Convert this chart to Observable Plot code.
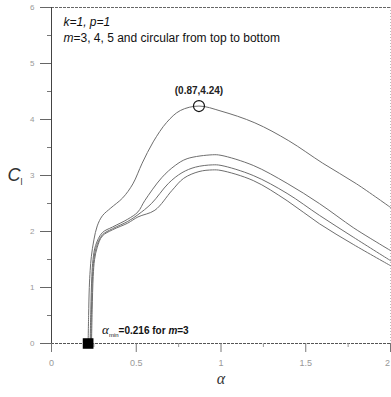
<!DOCTYPE html>
<html>
<head>
<meta charset="utf-8">
<script src="https://cdn.jsdelivr.net/npm/d3@7"></script>
<script src="https://cdn.jsdelivr.net/npm/@observablehq/plot@0.6"></script>
<style>
  html, body { margin: 0; padding: 0; background: #fff; }
  svg { display: block; }
</style>
</head>
<body>
<div id="chart"></div>
<script>
// Series: m=3 (top), m=4, m=5, circular (bottom)
const alphaM3 = [0.216,0.219,0.223,0.228,0.235,0.25,0.27,0.30,0.35,0.42,0.48,0.535,0.60,0.68,0.76,0.87,1.00,1.20,1.40,1.60,1.80,2.00];
const clM3    = [0,    0.5,  1.0,  1.3,  1.55, 1.85,2.10,2.28,2.42,2.60,2.85,3.22, 3.60,3.95,4.16,4.24,4.15,3.94,3.62,3.22,2.85,2.43];

const alphaM4 = [0.228,0.232,0.238,0.245,0.26,0.30,0.36,0.45,0.51,0.55,0.65,0.73,0.80,0.95,1.00,1.19,1.39,1.58,1.78,1.88,2.00];
const clM4    = [0,    0.6,  1.2,  1.5,  1.75,1.98,2.08,2.22,2.35,2.55,2.96,3.18,3.30,3.37,3.36,3.18,2.86,2.50,2.07,1.88,1.66];

const alphaM5 = [0.232,0.236,0.242,0.25,0.265,0.30,0.36,0.45,0.51,0.59,0.69,0.77,0.85,0.95,1.00,1.19,1.39,1.58,1.78,2.00];
const clM5    = [0,    0.6,  1.2,  1.5, 1.73, 1.94,2.05,2.18,2.30,2.50,2.86,3.05,3.15,3.19,3.18,3.00,2.68,2.29,1.90,1.48];

const alphaCirc = [0.236,0.24,0.246,0.254,0.27,0.30,0.36,0.45,0.51,0.61,0.71,0.78,0.87,0.95,1.00,1.19,1.39,1.58,1.78,2.00];
const clCirc    = [0,    0.6, 1.2,  1.5,  1.72,1.92,2.03,2.15,2.26,2.38,2.73,2.95,3.07,3.10,3.09,2.91,2.55,2.14,1.77,1.39];

const seriesNames = ["m=3", "m=4", "m=5", "circular"];
const xTicks = [0, 0.5, 1, 1.5, 2];
const xTickLabels = ["0", "0.5", "1", "1.5", "2"];
const xMinorTicks = [0.25, 0.75, 1.25, 1.75];
const yTicks = [0, 1, 2, 3, 4, 5, 6];
const yTickLabels = ["0", "1", "2", "3", "4", "5", "6"];
const yMinorTicks = [0.5, 1.5, 2.5, 3.5, 4.5, 5.5];

const peakPoint = [{alpha: 0.87, cl: 4.24}];
const alphaMinPoint = [{alpha: 0.216, cl: 0}];
const noteLine1 = "k=1, p=1";
const noteLine2 = "m=3, 4, 5 and circular from top to bottom";
const peakLabel = "(0.87,4.24)";
const alphaMinLabel = "α_min=0.216 for m=3";

const toRows = (xs, ys, s) => xs.map((a, i) => ({alpha: a, cl: ys[i], series: s}));
const rows = [
  ...toRows(alphaM3, clM3, seriesNames[0]),
  ...toRows(alphaM4, clM4, seriesNames[1]),
  ...toRows(alphaM5, clM5, seriesNames[2]),
  ...toRows(alphaCirc, clCirc, seriesNames[3])
];

const plot = Plot.plot({
  width: 391,
  height: 397,
  marginLeft: 51,
  marginRight: 1,
  marginTop: 7,
  marginBottom: 54,
  style: {fontFamily: "Liberation Sans, Arial, sans-serif", background: "#fff"},
  x: {domain: [0, 2]},
  y: {domain: [0, 6]},
  marks: [
    // frame
    Plot.ruleY([6], {stroke: "#666", strokeWidth: 1, strokeDasharray: "3,1"}),
    Plot.ruleX([2], {stroke: "#bbb", strokeWidth: 1, strokeDasharray: "1,2"}),
    Plot.ruleY([0], {stroke: "#555", strokeWidth: 1, strokeDasharray: "3,1"}),
    Plot.ruleX([0], {stroke: "#444", strokeWidth: 1, y1: 0, y2: 6}),
    // axes
    Plot.axisY(yTicks, {tickSize: 11, tickPadding: 6, fontSize: 8, fill: "#999", stroke: "#666", tickFormat: (d, i) => yTickLabels[i], label: null}),
    Plot.axisY(yMinorTicks, {tickSize: 4, text: null, stroke: "#777", label: null}),
    Plot.axisX(xTicks, {tickSize: 9, tickPadding: 7, fontSize: 9, fill: "#999", stroke: "#777", tickFormat: (d, i) => xTickLabels[i], label: null}),
    Plot.axisX(xMinorTicks, {tickSize: 4, text: null, stroke: "#999", label: null}),
    // curves
    Plot.line(rows, {x: "alpha", y: "cl", z: "series", stroke: "#6e6e6e", strokeWidth: 1, curve: "catmull-rom"}),
    // markers
    Plot.dot(peakPoint, {x: "alpha", y: "cl", r: 5.5, stroke: "#111", strokeWidth: 1.2, fill: "none"}),
    Plot.dot(alphaMinPoint, {x: "alpha", y: "cl", symbol: "square", r: 5.2, fill: "#000", stroke: "#000"}),
    // annotations
    Plot.text(peakPoint, {x: "alpha", y: "cl", text: () => peakLabel, dy: -15, fontSize: 10, fontWeight: "bold", fill: "#222"}),
    Plot.text(alphaMinPoint, {x: "alpha", y: "cl", text: () => alphaMinLabel, dx: 14, dy: -13, textAnchor: "start", fontSize: 10, fontWeight: "bold", fill: "#111"}),
    Plot.text([noteLine1], {frameAnchor: "top-left", dx: 12, dy: 10, fontSize: 12, fontStyle: "italic", fill: "#111"}),
    Plot.text([noteLine2], {frameAnchor: "top-left", dx: 12, dy: 26, fontSize: 12, fill: "#111"}),
    // axis labels
    Plot.text(["α"], {frameAnchor: "bottom", dy: 40, fontSize: 16, fontFamily: "Liberation Serif, serif", fontStyle: "italic", fill: "#333"}),
    Plot.text(["C_l"], {frameAnchor: "left", dx: -44, dy: 0, fontSize: 18, textAnchor: "start", fill: "#333"})
  ]
});

document.getElementById("chart").appendChild(plot);

// Keep the "2" tick label at the right edge inside the picture
d3.select(plot).selectAll("text").filter(function () {
  return this.textContent === xTickLabels[xTickLabels.length - 1] && this.closest("g[aria-label='x-axis tick label']");
}).attr("dx", -3);

// Rich-text post-processing (italics / subscripts)
function rich(content, parts) {
  d3.select(plot).selectAll("text").filter(function () { return this.textContent === content; })
    .each(function () {
      const t = d3.select(this);
      t.text(null);
      for (const p of parts) {
        const ts = t.append("tspan").text(p.t);
        if (p.italic) ts.attr("font-style", "italic");
        if (p.family) ts.attr("font-family", p.family);
        if (p.size) ts.attr("font-size", p.size);
        if (p.weight) ts.attr("font-weight", p.weight);
        if (p.dy) ts.attr("dy", p.dy);
      }
    });
}
rich(noteLine2, [{t: "m", italic: true}, {t: "=3, 4, 5 and circular from top to bottom"}]);
rich(alphaMinLabel, [
  {t: "α", italic: true, family: "Liberation Serif, serif", size: 13, weight: "normal"},
  {t: "min", size: 6, dy: 3, weight: "normal"},
  {t: "=0.216 for ", dy: -3},
  {t: "m", italic: true},
  {t: "=3"}
]);
rich("C_l", [
  {t: "C", italic: true},
  {t: "l", size: 9, dy: 4}
]);
</script>
</body>
</html>
